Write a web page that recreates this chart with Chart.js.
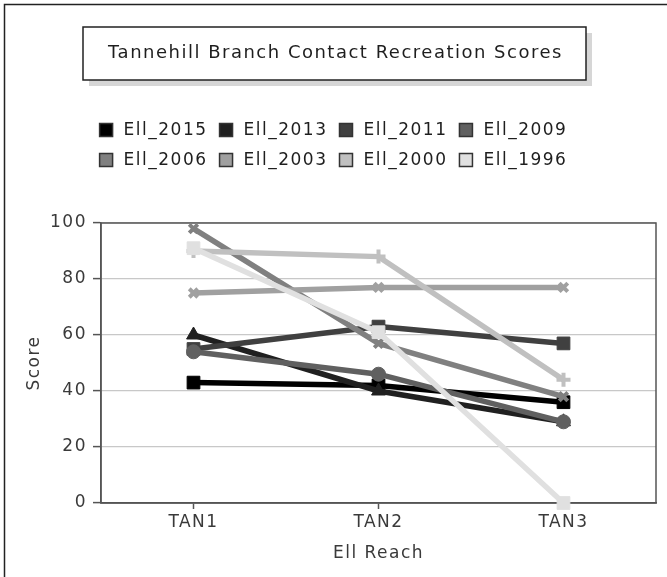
<!DOCTYPE html>
<html>
<head>
<meta charset="utf-8">
<script src="https://cdn.jsdelivr.net/npm/chart.js@4"></script>
<style>
  body { margin: 0; background: #fff; }
  #wrap { width: 667px; height: 577px; }
</style>
</head>
<body>
<div id="wrap"><canvas id="myChart" width="667" height="577"></canvas></div>
<script>
'use strict';

// DATA
let reaches = ['TAN1', 'TAN2', 'TAN3'];
let seriesNames = ['Ell_2015', 'Ell_2013', 'Ell_2011', 'Ell_2009', 'Ell_2006', 'Ell_2003', 'Ell_2000', 'Ell_1996'];
let ell2015 = [43, 42, 36];
let ell2013 = [60, 40, 29];
let ell2011 = [55, 63, 57];
let ell2009 = [54, 46, 29];
let ell2006 = [98, 57, 38];
let ell2003 = [75, 77, 77];
let ell2000 = [90, 88, 44];
let ell1996 = [91, 61, 0];
let yTicks = [0, 20, 40, 60, 80, 100];

let chartTitle = 'Tannehill Branch Contact Recreation Scores';
let allValues = [ell2015, ell2013, ell2011, ell2009, ell2006, ell2003, ell2000, ell1996];
let greys = ['#000000', '#202020', '#404040', '#606060', '#808080', '#a0a0a0', '#c0c0c0', '#e0e0e0'];
let markers = ['rect', 'triangle', 'rect', 'circle', 'crossRot', 'crossRot', 'cross', 'rect'];
let markerSize = [9, 8, 9, 7, 6, 6, 7, 9];

Chart.defaults.font.family = 'DejaVu Sans';
Chart.defaults.font.size = 17;
Chart.defaults.color = '#3a3a3a';

const SPACING = '1.5px';

// letter spacing, title box, legend and plot frame
let decorPlugin = {
  id: 'decor',
  beforeLayout(chart) {
    chart.ctx.letterSpacing = SPACING;
  },
  beforeDraw(chart) {
    let ctx = chart.ctx;
    ctx.letterSpacing = SPACING;
    ctx.save();
    // outer panel edge
    ctx.strokeStyle = '#222';
    ctx.lineWidth = 1.5;
    ctx.beginPath();
    ctx.moveTo(4.5, 577);
    ctx.lineTo(4.5, 4.5);
    ctx.lineTo(667, 4.5);
    ctx.stroke();

    // title box with shadow
    let bx = 83, by = 27, bw = 503, bh = 53;
    ctx.fillStyle = '#d6d6d6';
    ctx.fillRect(bx + 6, by + 6, bw, bh);
    ctx.fillStyle = '#fff';
    ctx.fillRect(bx, by, bw, bh);
    ctx.strokeStyle = '#222';
    ctx.lineWidth = 1.5;
    ctx.strokeRect(bx, by, bw, bh);
    ctx.font = '18px "DejaVu Sans"';
    ctx.fillStyle = '#1e1e1e';
    ctx.textAlign = 'center';
    ctx.textBaseline = 'middle';
    ctx.fillText(chartTitle, bx + bw / 2 + 1, by + bh / 2);

    // legend, 4 per row
    ctx.font = '17px "DejaVu Sans"';
    ctx.textAlign = 'left';
    let sets = chart.data.datasets;
    let rows = [sets.slice(0, 4), sets.slice(4, 8)];
    let rowY = [130, 160];
    rows.forEach(function(row, r) {
      let widths = row.map(function(ds) { return 13 + 11 + ctx.measureText(ds.label).width; });
      let total = widths.reduce(function(a, b) { return a + b; }, 0) + 12 * (row.length - 1);
      let x = 333.5 - total / 2;
      row.forEach(function(ds, i) {
        ctx.fillStyle = ds.backgroundColor;
        ctx.fillRect(x, rowY[r] - 6.5, 13, 13);
        ctx.strokeStyle = '#333';
        ctx.lineWidth = 1.5;
        ctx.strokeRect(x, rowY[r] - 6.5, 13, 13);
        ctx.fillStyle = '#1e1e1e';
        ctx.fillText(ds.label, x + 24, rowY[r] + 1);
        x += widths[i] + 12;
      });
    });
    ctx.restore();
  },
  beforeDatasetsDraw(chart) {
    let a = chart.chartArea;
    let ctx = chart.ctx;
    ctx.save();
    ctx.strokeStyle = '#555';
    ctx.lineWidth = 1.5;
    ctx.strokeRect(a.left, a.top, a.right - a.left, a.bottom - a.top);
    ctx.restore();
  }
};

let datasets = [];
for (let i = 0; i < seriesNames.length; i++) {
  let isCross = markers[i] === 'cross' || markers[i] === 'crossRot';
  datasets.push({
    label: seriesNames[i],
    data: allValues[i],
    borderColor: greys[i],
    backgroundColor: greys[i],
    borderWidth: 5.5,
    pointStyle: markers[i],
    pointRadius: markerSize[i],
    pointBackgroundColor: greys[i],
    pointBorderColor: greys[i],
    pointBorderWidth: isCross ? 4 : 1,
    tension: 0,
    clip: false,
    order: seriesNames.length - i
  });
}

const config = {
  type: 'line',
  data: { labels: reaches, datasets: datasets },
  options: {
    responsive: false,
    animation: false,
    layout: { padding: { top: 223, left: 4, right: 4, bottom: 0 } },
    plugins: {
      legend: { display: false },
      title: { display: false },
      tooltip: { enabled: false }
    },
    scales: {
      x: {
        offset: true,
        grid: { display: true, drawOnChartArea: false, offset: false, tickLength: 6, tickColor: '#555', tickWidth: 1.5 },
        border: { color: '#555', width: 1.5 },
        ticks: { padding: 3, maxRotation: 0 },
        title: { display: true, text: 'Ell Reach', padding: { top: 0, bottom: 13 } },
        afterFit(scale) { scale.height = 74; }
      },
      y: {
        min: 0,
        max: 100,
        afterBuildTicks(scale) { scale.ticks = yTicks.map(function(v) { return { value: v }; }); },
        grid: { color: '#c8c8c8', lineWidth: 1.2, tickLength: 8, tickColor: '#555', tickWidth: 1.5 },
        border: { color: '#555', width: 1.5 },
        ticks: { padding: 6 },
        title: { display: true, text: 'Score', padding: { top: 20, bottom: 0 } },
        afterFit(scale) { scale.width = 97; }
      }
    }
  },
  plugins: [decorPlugin]
};

let canvas = document.getElementById('myChart').getContext('2d');
new Chart(canvas, config);
</script>
</body>
</html>
